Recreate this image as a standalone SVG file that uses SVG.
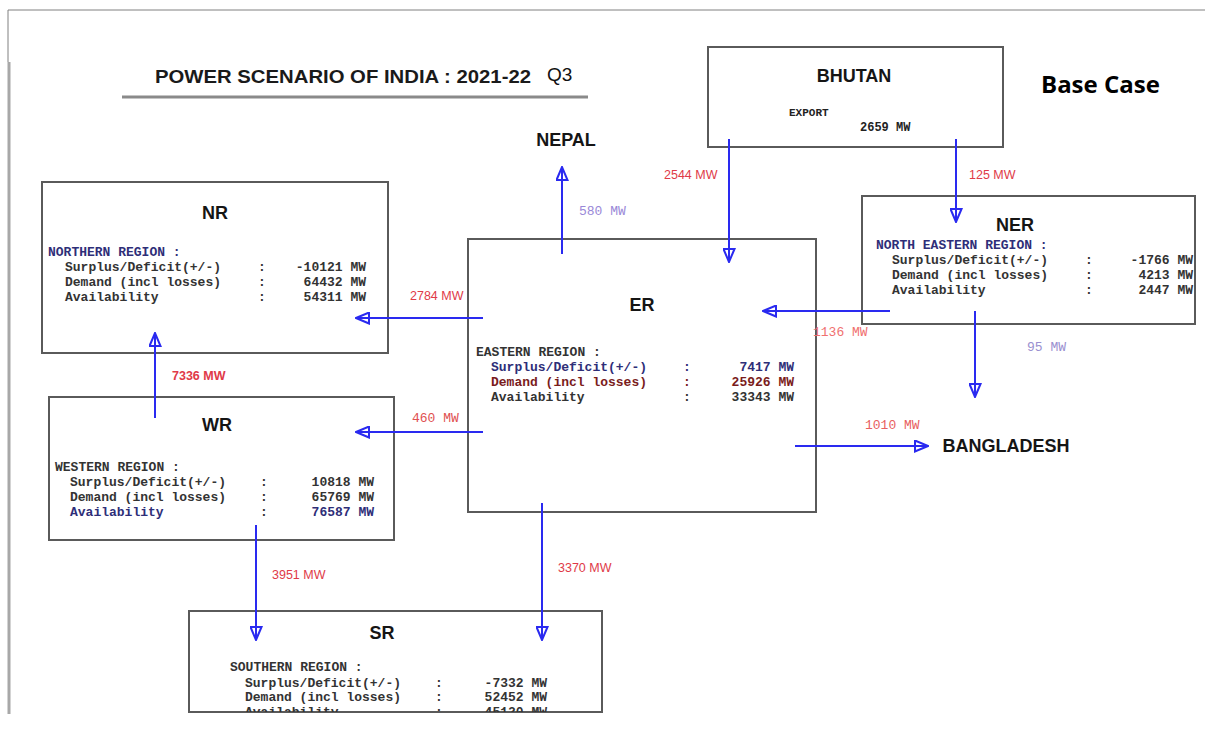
<svg xmlns="http://www.w3.org/2000/svg" width="1206" height="745" viewBox="0 0 1206 745">
<style>
.box{fill:#fff;stroke:#5a5a5a;stroke-width:2}
.ttl{font-family:"Liberation Sans",Arial,sans-serif;font-weight:bold;font-size:18px;fill:#151515;text-anchor:middle}
.m{font-family:"Liberation Mono","Courier New",monospace;font-weight:bold;font-size:13px;fill:#333}
.v{text-anchor:end}
.nv{fill:#2e2e78}
.dr{fill:#7a1c1c}
.lbl{font-family:"Liberation Sans",Arial,sans-serif;font-size:12.5px;fill:#e03a48}
.lm{font-family:"Liberation Mono","Courier New",monospace;font-size:13px}
.conn{stroke:#2a2af0;stroke-width:2;fill:none;marker-end:url(#ah)}
</style>
<defs>
<marker id="ah" markerUnits="userSpaceOnUse" viewBox="0 0 15 13" refX="14" refY="6.5" markerWidth="15" markerHeight="13" orient="auto">
<path d="M1,1 L14,6.5 L1,12 Z" fill="none" stroke="#2a2af0" stroke-width="2"/>
</marker>
<clipPath id="srclip"><rect x="189" y="611" width="413" height="101"/></clipPath>
</defs>
<rect width="1206" height="745" fill="#fff"/>
<g id="frame">
<path d="M8,62 V10 H1205" fill="none" stroke="#808080" stroke-width="1"/>
<path d="M9,62 V714" stroke="#a8a8a8" stroke-width="3"/>
</g>
<g id="title">
<text x="155" y="83" font-family="'Liberation Sans',Arial,sans-serif" font-weight="bold" font-size="18" fill="#1a1a1a" textLength="376" lengthAdjust="spacingAndGlyphs">POWER SCENARIO OF INDIA : 2021-22</text>
<text x="547" y="81" font-family="'Liberation Sans',Arial,sans-serif" font-size="19" fill="#111">Q3</text>
<line x1="122" y1="97" x2="588" y2="97" stroke="#8a8a8a" stroke-width="3"/>
</g>
<text id="basecase" x="1041" y="93" font-family="'Open Sans',sans-serif" font-weight="bold" font-size="24" fill="#000">Base Case</text>
<g id="bhutan">
<rect class="box" x="708" y="47" width="295" height="100"/>
<text class="ttl" x="854" y="82">BHUTAN</text>
<text x="789" y="116" font-family="'Liberation Mono',monospace" font-weight="bold" font-size="11" fill="#222">EXPORT</text>
<text x="860" y="131" font-family="'Liberation Mono',monospace" font-weight="bold" font-size="12" fill="#222">2659 MW</text>
</g>
<g id="nepal"><text class="ttl" x="566" y="146">NEPAL</text></g>
<g id="bangladesh"><text class="ttl" x="1006" y="452">BANGLADESH</text></g>
<g id="nr">
<rect class="box" x="42" y="182" width="346" height="171"/>
<text class="ttl" x="215" y="219">NR</text>
<text class="m nv" x="48" y="256">NORTHERN REGION :</text>
<text class="m" x="65" y="271">Surplus/Deficit(+/-)</text>
<text class="m" x="65" y="286">Demand (incl losses)</text>
<text class="m" x="65" y="301">Availability</text>
<text class="m" x="258" y="271">:</text><text class="m" x="258" y="286">:</text><text class="m" x="258" y="301">:</text>
<text class="m v" x="366" y="271">-10121 MW</text>
<text class="m v" x="366" y="286">64432 MW</text>
<text class="m v" x="366" y="301">54311 MW</text>
</g>
<g id="er">
<rect class="box" x="468" y="239" width="348" height="273"/>
<text class="ttl" x="642" y="311">ER</text>
<text class="m" x="476" y="356" fill="#222">EASTERN REGION :</text>
<text class="m nv" x="491" y="371">Surplus/Deficit(+/-)</text>
<text class="m dr" x="491" y="386">Demand (incl losses)</text>
<text class="m" x="491" y="401" fill="#222">Availability</text>
<text class="m nv" x="683" y="371">:</text><text class="m dr" x="683" y="386">:</text><text class="m" x="683" y="401">:</text>
<text class="m v nv" x="794" y="371">7417 MW</text>
<text class="m v dr" x="794" y="386">25926 MW</text>
<text class="m v" x="794" y="401" fill="#222">33343 MW</text>
</g>
<g id="ner">
<rect class="box" x="862" y="196" width="333" height="128"/>
<text class="ttl" x="1015" y="231">NER</text>
<text class="m nv" x="876" y="249">NORTH EASTERN REGION :</text>
<text class="m" x="892" y="264">Surplus/Deficit(+/-)</text>
<text class="m" x="892" y="279">Demand (incl losses)</text>
<text class="m" x="892" y="294">Availability</text>
<text class="m" x="1085" y="264">:</text><text class="m" x="1085" y="279">:</text><text class="m" x="1085" y="294">:</text>
<text class="m v" x="1193" y="264">-1766 MW</text>
<text class="m v" x="1193" y="279">4213 MW</text>
<text class="m v" x="1193" y="294">2447 MW</text>
</g>
<g id="wr">
<rect class="box" x="49" y="397" width="345" height="143"/>
<text class="ttl" x="217" y="431" fill="#3a1212">WR</text>
<text class="m" x="55" y="471" fill="#444">WESTERN REGION :</text>
<text class="m" x="70" y="486">Surplus/Deficit(+/-)</text>
<text class="m" x="70" y="501" fill="#444">Demand (incl losses)</text>
<text class="m nv" x="70" y="516">Availability</text>
<text class="m" x="260" y="486">:</text><text class="m" x="260" y="501">:</text><text class="m" x="260" y="516">:</text>
<text class="m v" x="374" y="486">10818 MW</text>
<text class="m v" x="374" y="501" fill="#444">65769 MW</text>
<text class="m v nv" x="374" y="516">76587 MW</text>
</g>
<g id="sr">
<rect class="box" x="189" y="611" width="413" height="101"/>
<text class="ttl" x="382" y="639">SR</text>
<g clip-path="url(#srclip)">
<text class="m" x="230" y="671">SOUTHERN REGION :</text>
<text class="m" x="245" y="687">Surplus/Deficit(+/-)</text>
<text class="m" x="245" y="701">Demand (incl losses)</text>
<text class="m" x="245" y="716">Availability</text>
<text class="m" x="435" y="687">:</text><text class="m" x="435" y="701">:</text><text class="m" x="435" y="716">:</text>
<text class="m v" x="547" y="687">-7332 MW</text>
<text class="m v" x="547" y="701">52452 MW</text>
<text class="m v" x="547" y="716">45120 MW</text>
</g>
</g>
<g id="connectors">
<path class="conn" d="M562,254 V167"/>
<path class="conn" d="M729,139 V262"/>
<path class="conn" d="M956,139 V222"/>
<path class="conn" d="M890,311 H763"/>
<path class="conn" d="M975,311 V397"/>
<path class="conn" d="M795,446 H928"/>
<path class="conn" d="M483,318 H356"/>
<path class="conn" d="M483,432 H356"/>
<path class="conn" d="M155,418 V333"/>
<path class="conn" d="M256,525 V640"/>
<path class="conn" d="M542,503 V640"/>
<text class="lm" x="579" y="215" fill="#9a88d8">580 MW</text>
<text class="lbl" x="664" y="179">2544 MW</text>
<text class="lbl" x="969" y="179">125 MW</text>
<text class="lm" x="813" y="336" fill="#f07070">1136 MW</text>
<text class="lm" x="1027" y="351" fill="#9a90d0">95 MW</text>
<text class="lm" x="865" y="429" fill="#e86060">1010 MW</text>
<text class="lbl" x="410" y="300">2784 MW</text>
<text class="lm" x="412" y="422" fill="#e05050">460 MW</text>
<text class="lbl" x="172" y="380" font-weight="bold" fill="#d8303e">7336 MW</text>
<text class="lbl" x="272" y="579">3951 MW</text>
<text class="lbl" x="558" y="572">3370 MW</text>
</g>
</svg>
